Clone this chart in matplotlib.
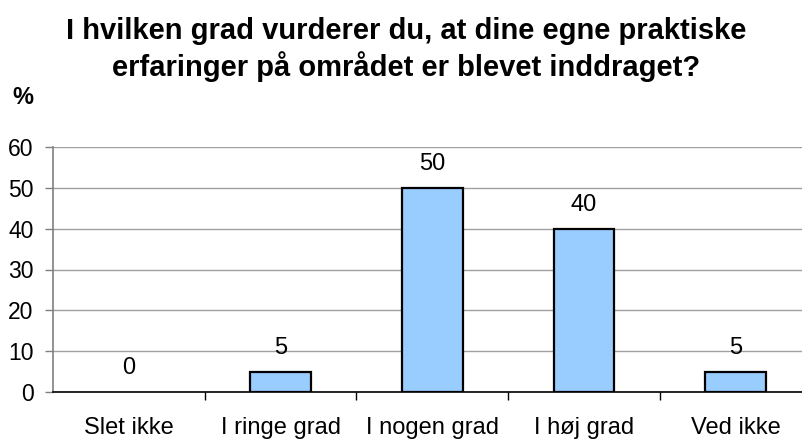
import matplotlib
matplotlib.use("Agg")
import matplotlib.pyplot as plt
import numpy as np

categories = ["Slet ikke", "I ringe grad", "I nogen grad", "I høj grad", "Ved ikke"]
values = [0, 5, 50, 40, 5]
yticks = [0, 10, 20, 30, 40, 50, 60]
title_lines = ["I hvilken grad vurderer du, at dine egne praktiske",
               "erfaringer på området er blevet inddraget?"]

plt.rcParams['font.family'] = ['Liberation Sans', 'DejaVu Sans']

W, H = 803, 442
fig = plt.figure(figsize=(W / 100, H / 100), dpi=100)
ax = fig.add_axes([53 / W, 50 / H, 5 * 151.7 / W, 245 / H])

x = np.arange(len(categories))
lws = [1.6 if v > 0 else 0 for v in values]
ax.bar(x, values, width=0.4, color="#99CCFF", edgecolor="black", linewidth=lws, zorder=3)

ax.set_xlim(-0.5, len(categories) - 0.5)
ax.set_ylim(0, 60)
ax.set_yticks(yticks)
ax.yaxis.grid(True, color="#A0A0A0", linewidth=1.0, zorder=0)
ax.set_axisbelow(True)

for s in ["top", "right"]:
    ax.spines[s].set_visible(False)
ax.spines["left"].set_color("#808080")
ax.spines["left"].set_linewidth(1.2)
ax.spines["bottom"].set_color("black")
ax.spines["bottom"].set_linewidth(1.2)

# tick marks between categories, labels at centers
ax.set_xticks(np.arange(0.5, len(categories) - 0.5, 1.0))
ax.set_xticklabels([])
ax.set_xticks(x, minor=True)
ax.set_xticklabels(categories, minor=True)
ax.tick_params(axis="x", which="major", length=6, width=1, color="black", direction="out")
ax.tick_params(axis="x", which="minor", length=0, pad=18, labelsize=17)
ax.tick_params(axis="y", length=6, width=1, color="#808080", pad=8, labelsize=16.5)

for xi, v in zip(x, values):
    ax.annotate(f"{v}", (xi, v), xytext=(0, 13), textcoords="offset points",
                ha="center", va="baseline", fontsize=17)

fig.text(406 / W, 1 - 39 / H, title_lines[0], ha="center", va="baseline",
         fontsize=21, fontweight="bold")
fig.text(406 / W, 1 - 76 / H, title_lines[1], ha="center", va="baseline",
         fontsize=21, fontweight="bold")
fig.text(12 / W, 1 - 104 / H, "%", ha="left", va="baseline", fontsize=17, fontweight="bold")

fig.savefig("out.png", dpi=100)
